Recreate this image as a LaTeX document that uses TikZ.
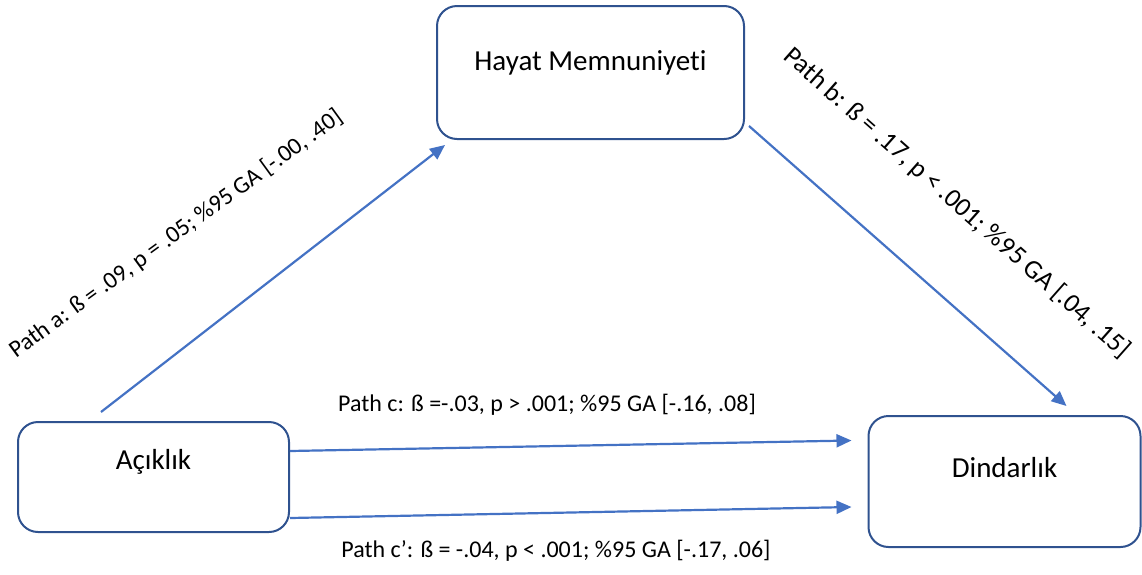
\documentclass[tikz,border=0pt]{standalone}
\usepackage{fontspec}
\setmainfont[Ligatures=NoCommon]{Carlito}
\usetikzlibrary{arrows.meta,calc}
\definecolor{boxblue}{HTML}{2F528F}
\definecolor{arrblue}{HTML}{4472C4}
\begin{document}
\begin{tikzpicture}[x=1pt,y=-1pt,
  box/.style={draw=boxblue, line width=2pt, rounded corners=20pt, fill=white, inner sep=0pt},
  conn/.style={draw=arrblue, line width=2.2pt, -{Triangle[length=15pt,width=13pt]}},
  lbl/.style={font=\fontsize{24}{28}\selectfont, inner sep=0pt},
  boxtext/.style={font=\fontsize{29}{34}\selectfont, inner sep=0pt}]
\useasboundingbox (0,0) rectangle (1142,574);
\node[box, minimum width=307pt, minimum height=133pt,
  label={[boxtext, yshift=9.5pt]center:Hayat Memnuniyeti}] (hm) at (590.5,72.5) {};
\node[box, minimum width=271pt, minimum height=110pt,
  label={[boxtext, yshift=15pt]center:Açıklık}] (ac) at (153.5,477) {};
\node[box, minimum width=272pt, minimum height=131pt,
  label={[boxtext, yshift=13.5pt]center:Dindarlık}] (din) at (1004.5,481.5) {};
\draw[conn] ($(ac.north west)+(84,-9)$) -- ($(hm.south west)+(9,5)$);
\draw[conn] ($(hm.south east)+(4,-14)$) -- ($(din.north west)+(199,-9)$);
\draw[conn] ($(ac.east)+(0,-26)$) -- ($(din.west)+(-16,-41)$);
\draw[conn] ($(ac.east)+(0,41)$) -- ($(din.west)+(-16,25.5)$);
\node[lbl, rotate=36] (la) at (176,234) {Path a: ß = .09, p = .05; \%95 GA [-.00, .40]};
\node[lbl, font=\fontsize{26.5}{30}\selectfont, rotate=-41.5] (lb) at (957,203) {Path b: ß = .17, p < .001; \%95 GA [.04, .15]};
\node[lbl] (lc) at (547,405) {Path c: ß =-.03, p > .001; \%95 GA [-.16, .08]};
\node[lbl] (lc2) at (556,551) {Path c’: ß = -.04, p < .001; \%95 GA [-.17, .06]};
\end{tikzpicture}
\end{document}
